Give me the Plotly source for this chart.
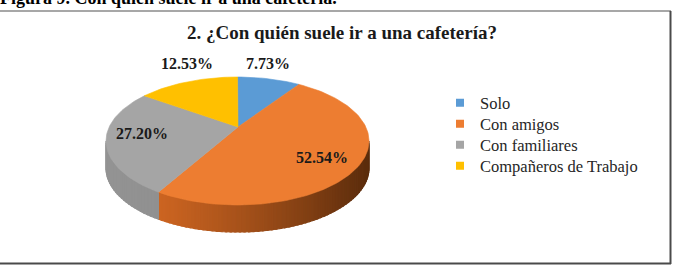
import math
import plotly.graph_objects as go

# ---- data ----
categories = ["Solo", "Con amigos", "Con familiares", "Compañeros de Trabajo"]
values = [7.73, 52.54, 27.20, 12.53]
colors = ["#5b9bd5", "#ed7d31", "#a5a5a5", "#ffc000"]
chart_title = "2. ¿Con quién suele ir a una cafetería?"
caption = "Figura 9. Con quién suele ir a una cafetería."

# ---- layout constants (pixels) ----
W, H = 673, 266
CX, CY = 237.5, 141.0      # ellipse centre of top face
RA, RB = 131.5, 64.0       # semi axes
AX, AY = 238.0, 127.0      # apex (perspective)
DEPTH = 27.0
label_pos = [(268, 63), (322, 157), (142, 133), (187, 63)]
legend_rows = [103, 124, 145, 166]
FONT = "Liberation Serif"


def rim(theta_deg, dy=0.0):
    t = math.radians(theta_deg)
    return CX + RA * math.sin(t), CY - RB * math.cos(t) + dy


def hex2rgb(h):
    h = h.lstrip("#")
    return tuple(int(h[i:i + 2], 16) for i in (0, 2, 4))


def mix(c1, c2, f):
    a, b = hex2rgb(c1), hex2rgb(c2)
    return "rgb(%d,%d,%d)" % tuple(round(a[i] + (b[i] - a[i]) * f) for i in range(3))


wall_shades = {
    1: ("#dc6c24", "#5a2c0c"),
    2: ("#939393", "#7c7c7c"),
}

total = sum(values)
angles = []
acc = 0.0
for v in values:
    a0 = acc / total * 360
    acc += v
    a1 = acc / total * 360
    angles.append((a0, a1))

fig = go.Figure()

# ---- side walls (front half: 90..270 deg) ----
for i, (a0, a1) in enumerate(angles):
    s0, s1 = max(a0, 90), min(a1, 270)
    if s1 <= s0:
        continue
    light, dark = wall_shades.get(i, (colors[i], colors[i]))
    n = max(2, int((s1 - s0) / 2))
    for k in range(n):
        t0 = s0 + (s1 - s0) * k / n
        t1 = min(s0 + (s1 - s0) * (k + 1) / n + 0.5, s1)
        xs, ys = [], []
        for t in (t0, t1):
            x, y = rim(t)
            xs.append(x); ys.append(y)
        for t in (t1, t0):
            x, y = rim(t, DEPTH)
            xs.append(x); ys.append(y)
        xs.append(xs[0]); ys.append(ys[0])
        xm, _ = rim((t0 + t1) / 2)
        f = (xm - (CX - RA)) / (2 * RA)
        f = min(max(f, 0), 1)
        col = mix(light, dark, f ** 1.3)
        fig.add_trace(go.Scatter(x=xs, y=ys, fill="toself", fillcolor=col,
                                 mode="lines", line=dict(width=1.2, color=col),
                                 hoverinfo="skip", showlegend=False))

# ---- top face slices ----
for i, (a0, a1) in enumerate(angles):
    xs, ys = [AX], [AY]
    n = max(4, int((a1 - a0) / 1.5))
    for k in range(n + 1):
        x, y = rim(a0 + (a1 - a0) * k / n)
        xs.append(x); ys.append(y)
    xs.append(AX); ys.append(AY)
    fig.add_trace(go.Scatter(x=xs, y=ys, fill="toself", fillcolor=colors[i],
                             mode="lines", line=dict(width=0.6, color=colors[i]),
                             hoverinfo="text", text=f"{categories[i]}: {values[i]:.2f}%",
                             showlegend=False))

# ---- legend entries (one legend per row for exact spacing) ----
legend_layout = {}
for i, c in enumerate(categories):
    lname = "legend" if i == 0 else f"legend{i + 1}"
    fig.add_trace(go.Scatter(x=[None], y=[None], mode="markers", name=c,
                             legend=lname,
                             marker=dict(symbol="square", size=8, color=colors[i])))
    legend_layout[lname] = dict(
        x=440 / W, y=1 - legend_rows[i] / H, xanchor="left", yanchor="middle",
        font=dict(family=FONT, size=16.5, color="#262626"),
        bgcolor="rgba(0,0,0,0)", itemwidth=30)

annotations = []
for i, v in enumerate(values):
    lx, ly = label_pos[i]
    annotations.append(dict(x=lx, y=ly, xref="x", yref="y", text=f"<b>{v:.2f}%</b>",
                            showarrow=False, font=dict(family=FONT, size=16, color="#1a1a1a"),
                            xanchor="center", yanchor="middle"))
annotations.append(dict(x=342, y=32, xref="x", yref="y", text=f"<b>{chart_title}</b>",
                        showarrow=False, font=dict(family=FONT, size=19, color="#1a1a1a"),
                        xanchor="center", yanchor="middle"))
annotations.append(dict(x=0, y=1.0 - 10 / H, xref="paper", yref="paper",
                        text=f"<b>{caption}</b>",
                        showarrow=False, font=dict(family=FONT, size=18, color="#000000"),
                        xanchor="left", yanchor="bottom", xshift=-2))

shapes = [
    dict(type="line", xref="x", yref="y", x0=-5, x1=671, y0=11, y1=11,
         line=dict(color="#8a8a8a", width=1.5)),
    dict(type="line", xref="x", yref="y", x0=670.5, x1=670.5, y0=11, y1=264,
         line=dict(color="#4a4a4a", width=2)),
    dict(type="line", xref="x", yref="y", x0=-5, x1=671, y0=263.5, y1=263.5,
         line=dict(color="#4a4a4a", width=2)),
]

fig.update_layout(
    width=W, height=H,
    margin=dict(l=0, r=0, t=0, b=0),
    paper_bgcolor="white", plot_bgcolor="white",
    xaxis=dict(range=[0, W], visible=False, fixedrange=True),
    yaxis=dict(range=[H, 0], visible=False, fixedrange=True),
    annotations=annotations,
    shapes=shapes,
    showlegend=True,
    **legend_layout,
)

fig.write_html("out.html")
